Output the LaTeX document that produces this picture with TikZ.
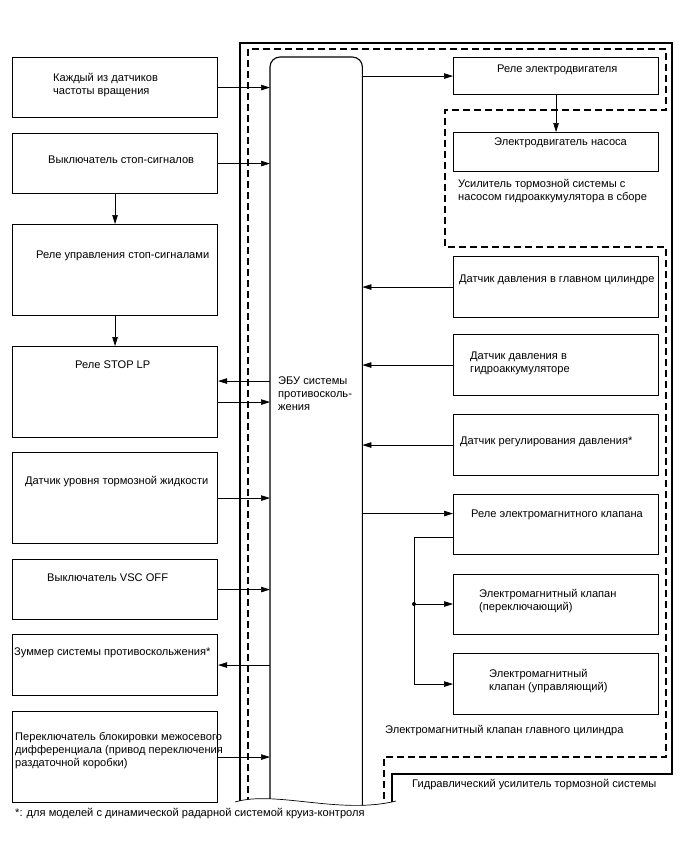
\documentclass[tikz,border=0pt]{standalone}
\usepackage{fontspec}
\setmainfont{Liberation Sans}
\usetikzlibrary{arrows.meta}

\begin{document}
\begin{tikzpicture}[x=1pt,y=-1pt,
  box/.style={draw,line width=1.1pt,anchor=north west,inner sep=0pt},
  txt/.style={anchor=west,inner sep=0pt,align=left,font=\fontsize{11.1}{13}\selectfont},
  sig/.style={line width=0.7pt,-{Triangle[length=9pt,width=5.5pt]}},
  hull/.style={line width=1.1pt},
  zone/.style={line width=1.4pt,dash pattern=on 7pt off 4pt}]
  \useasboundingbox (0,0) rectangle (688,852);

  % ECU column
  \node[minimum width=92pt,minimum height=755pt,inner sep=0pt,anchor=north west] (ecu) at (270,57) {};
  \node[txt] (ecutxt) at (278,394) {ЭБУ системы\\противосколь-\\жения};

  % left column
  \node[box,minimum width=205pt,minimum height=60pt] (spd) at (12,57) {};
  \node[box,minimum width=205pt,minimum height=60pt] (stopsw) at (12,133) {};
  \node[box,minimum width=205pt,minimum height=91pt] (stopctl) at (12,224) {};
  \node[box,minimum width=205pt,minimum height=91pt] (stoplp) at (12,346) {};
  \node[box,minimum width=205pt,minimum height=91pt] (fluid) at (12,452) {};
  \node[box,minimum width=205pt,minimum height=60pt] (vscoff) at (12,559) {};
  \node[box,minimum width=205pt,minimum height=61pt] (buzzer) at (12,634) {};
  \node[box,minimum width=205pt,minimum height=91pt] (cdl) at (12,711) {};

  \node[txt] (spdtxt) at (53,85.5) {Каждый из датчиков\\частоты вращения};
  \node[txt] (stopswtxt) at (48,160) {Выключатель стоп-сигналов};
  \node[txt] (stopctltxt) at (36,256) {Реле управления стоп-сигналами};
  \node[txt] (stoplptxt) at (75,365) {Реле STOP LP};
  \node[txt] (fluidtxt) at (25,482) {Датчик уровня тормозной жидкости};
  \node[txt] (vscofftxt) at (47,578) {Выключатель VSC OFF};
  \node[txt] (buzzertxt) at (14,653) {Зуммер системы противоскольжения*};
  \node[txt] (cdltxt) at (15,751) {Переключатель блокировки межосевого\\дифференциала (привод переключения\\раздаточной коробки)};

  % right column
  \node[box,minimum width=205pt,minimum height=37pt] (motrly) at (453,57) {};
  \node[box,minimum width=205pt,minimum height=39pt] (pump) at (453,132) {};
  \node[box,minimum width=205pt,minimum height=61pt] (mcs) at (453,256) {};
  \node[box,minimum width=205pt,minimum height=61pt] (accs) at (453,334) {};
  \node[box,minimum width=205pt,minimum height=61pt] (regs) at (453,414) {};
  \node[box,minimum width=205pt,minimum height=60pt] (solrly) at (453,494) {};
  \node[box,minimum width=205pt,minimum height=60pt] (swv) at (453,574) {};
  \node[box,minimum width=205pt,minimum height=61pt] (ctlv) at (453,653) {};

  \node[txt] (motrlytxt) at (497,70) {Реле электродвигателя};
  \node[txt] (pumptxt) at (494,143) {Электродвигатель насоса};
  \node[txt] (boosttxt) at (458,191.5) {Усилитель тормозной системы с\\насосом гидроаккумулятора в сборе};
  \node[txt] (mcstxt) at (459,280) {Датчик давления в главном цилиндре};
  \node[txt] (accstxt) at (470,363) {Датчик давления в\\гидроаккумуляторе};
  \node[txt] (regstxt) at (460,442) {Датчик регулирования давления*};
  \node[txt] (solrlytxt) at (471,515) {Реле электромагнитного клапана};
  \node[txt] (swvtxt) at (479,601) {Электромагнитный клапан\\(переключающий)};
  \node[txt] (ctlvtxt) at (489,681.5) {Электромагнитный\\клапан (управляющий)};
  \node[txt] (mcvtxt) at (385,731) {Электромагнитный клапан главного цилиндра};
  \node[txt] (hydtxt) at (412,785) {Гидравлический усилитель тормозной системы};
  \node[txt] (notetxt) at (15,814) {*: для моделей с динамической радарной системой круиз-контроля};

  % outlines, cut at the break line
  \begin{scope}
    \clip (0,0) -- (688,0) -- (688,780) -- (400,780) -- (400,801) -- (396,801)
      .. controls (340,815) and (275,790) .. (235,802) -- (230,802) -- (230,852) -- (0,852) -- cycle;
    \draw[hull] (240,815) -- (240,43) -- (672,43) -- (672,774) -- (392,774) -- (392,815);
    \draw[zone] (248,815) -- (248,49) -- (666,49) -- (666,110) -- (445,110) -- (445,247)
      -- (666,247) -- (666,757) -- (384,757) -- (384,815);
    \draw[hull,rounded corners=10pt] (ecu.south west) -- (ecu.north west) -- (ecu.north east) -- (ecu.south east);
  \end{scope}
  \draw[line width=0.7pt] (235,802) .. controls (275,790) and (340,815) .. (396,801);

  % signals
  \draw[sig] (spd.east) -- (spd.east -| ecu.west);
  \draw[sig] (stopsw.east) -- (stopsw.east -| ecu.west);
  \draw[sig] (stopsw.south) -- (stopctl.north);
  \draw[sig] (stopctl.south) -- (stoplp.north);
  \draw[sig] ([yshift=11pt]stoplp.east -| ecu.west) -- ([yshift=11pt]stoplp.east);
  \draw[sig] ([yshift=-10pt]stoplp.east) -- ([yshift=-10pt]stoplp.east -| ecu.west);
  \draw[sig] (fluid.east) -- (fluid.east -| ecu.west);
  \draw[sig] (vscoff.east) -- (vscoff.east -| ecu.west);
  \draw[sig] (buzzer.east -| ecu.west) -- (buzzer.east);
  \draw[sig] (cdl.east) -- (cdl.east -| ecu.west);

  \draw[sig] (motrly.west -| ecu.east) -- (motrly.west);
  \draw[sig] (motrly.south) -- (pump.north);
  \draw[sig] (mcs.west) -- (mcs.west -| ecu.east);
  \draw[sig] (accs.west) -- (accs.west -| ecu.east);
  \draw[sig] (regs.west) -- (regs.west -| ecu.east);
  \draw[sig] ([yshift=11pt]solrly.west -| ecu.east) -- ([yshift=11pt]solrly.west);

  \coordinate (jn) at (414,604);
  \draw[sig] ([yshift=-13pt]solrly.west) -| (jn |- ctlv.west) -- (ctlv.west);
  \draw[sig] (jn) -- (jn -| swv.west);
  \fill (jn) circle (2pt);
\end{tikzpicture}
\end{document}
